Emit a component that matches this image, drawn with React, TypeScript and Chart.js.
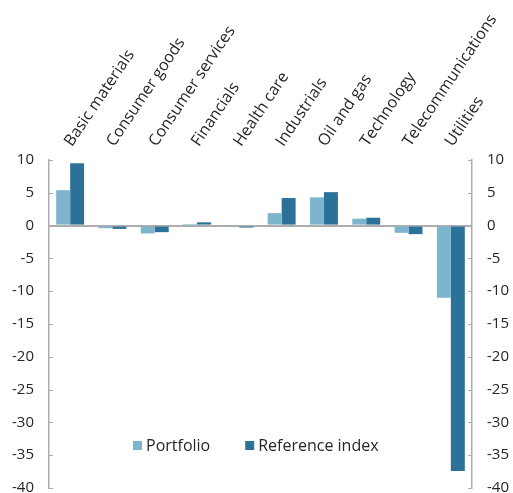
import React, { useEffect, useRef } from "react";
import { Chart, registerables } from "chart.js";

Chart.register(...registerables);

const categories = [
  "Basic materials",
  "Consumer goods",
  "Consumer services",
  "Financials",
  "Health care",
  "Industrials",
  "Oil and gas",
  "Technology",
  "Telecommunications",
  "Utilities",
];
const portfolio = [5.4, -0.4, -1.2, 0.25, -0.2, 1.9, 4.3, 1.05, -1.1, -11.0];
const referenceIndex = [9.5, -0.5, -1.0, 0.5, -0.3, 4.2, 5.1, 1.2, -1.3, -37.4];
const seriesNames = ["Portfolio", "Reference index"];
const yMin = -40;
const yMax = 10;
const yStep = 5;

const LIGHT = "#7db5cf";
const DARK = "#2b7199";
const AXIS = "#adadad";
const TEXT = "#262626";
const FONT = "Open Sans";

const inwardTicks = {
  id: "inwardTicks",
  afterDatasetsDraw(chart: any) {
    const { ctx } = chart;
    ctx.save();
    ctx.strokeStyle = AXIS;
    ctx.lineWidth = 1;
    ["y", "y2"].forEach((id) => {
      const s = chart.scales[id];
      if (!s) return;
      const xEdge = id === "y" ? s.right : s.left;
      const dir = id === "y" ? 1 : -1;
      s.ticks.forEach((t: any) => {
        const py = Math.round(s.getPixelForValue(t.value)) + 0.5;
        ctx.beginPath();
        ctx.moveTo(xEdge, py);
        ctx.lineTo(xEdge + dir * 4, py);
        ctx.stroke();
      });
    });
    ctx.restore();
  },
};

const insideLegend = {
  id: "insideLegend",
  afterDraw(chart: any) {
    const { ctx, chartArea } = chart;
    ctx.save();
    ctx.font = `16px "${FONT}"`;
    ctx.textBaseline = "middle";
    ctx.textAlign = "left";
    let x = chartArea.left + 84;
    const y = chartArea.bottom - 43;
    chart.data.datasets.forEach((ds: any) => {
      ctx.fillStyle = ds.backgroundColor;
      ctx.fillRect(x, y - 4, 9, 9);
      ctx.fillStyle = TEXT;
      ctx.fillText(ds.label, x + 13, y + 1);
      x += 13 + ctx.measureText(ds.label).width + 35;
    });
    ctx.restore();
  },
};

export default function App() {
  const ref = useRef<HTMLCanvasElement | null>(null);

  useEffect(() => {
    if (!ref.current) return;
    const yAxisCommon = {
      type: "linear" as const,
      min: yMin,
      max: yMax,
      border: { display: true, color: AXIS, width: 1.5 },
      ticks: {
        stepSize: yStep,
        color: TEXT,
        font: { family: FONT, size: 15 },
        padding: 15,
      },
    };
    const chart = new Chart(ref.current, {
      type: "bar",
      data: {
        labels: categories,
        datasets: [
          {
            label: seriesNames[0],
            data: portfolio,
            backgroundColor: LIGHT,
            barPercentage: 1,
            categoryPercentage: 0.66,
          },
          {
            label: seriesNames[1],
            data: referenceIndex,
            backgroundColor: DARK,
            barPercentage: 1,
            categoryPercentage: 0.66,
          },
        ],
      },
      options: {
        responsive: false,
        animation: false,
        layout: { padding: { top: 0, bottom: 5, left: 0, right: 0 } },
        plugins: {
          legend: { display: false },
          tooltip: { enabled: false },
        },
        scales: {
          x: {
            position: "top",
            border: { display: false },
            grid: { display: false, drawTicks: false, tickLength: 0 },
            ticks: {
              minRotation: 56,
              maxRotation: 56,
              autoSkip: false,
              padding: 10,
              labelOffset: 14,
              color: TEXT,
              font: { family: FONT, size: 16 },
            },
            afterFit(scale: any) {
              scale.height = 160;
              scale.paddingLeft = 0;
              scale.paddingRight = 0;
            },
          },
          y: {
            ...yAxisCommon,
            position: "left",
            grid: {
              drawTicks: false,
              tickLength: 0,
              lineWidth: 2,
              color: (c: any) => (c.tick && c.tick.value === 0 ? AXIS : "rgba(0,0,0,0)"),
            },
            afterFit(scale: any) {
              scale.width = 49;
              scale.paddingTop = 0;
              scale.paddingBottom = 0;
            },
          },
          y2: {
            ...yAxisCommon,
            position: "right",
            grid: { display: false, drawTicks: false, tickLength: 0 },
            afterFit(scale: any) {
              scale.width = 41;
              scale.paddingTop = 0;
              scale.paddingBottom = 0;
            },
          },
        },
      },
      plugins: [inwardTicks, insideLegend],
    });
    return () => chart.destroy();
  }, []);

  return (
    <div style={{ position: "fixed", left: 0, top: 0, width: 513, height: 493, background: "#fff" }}>
      <canvas ref={ref} width={513} height={493} />
    </div>
  );
}
